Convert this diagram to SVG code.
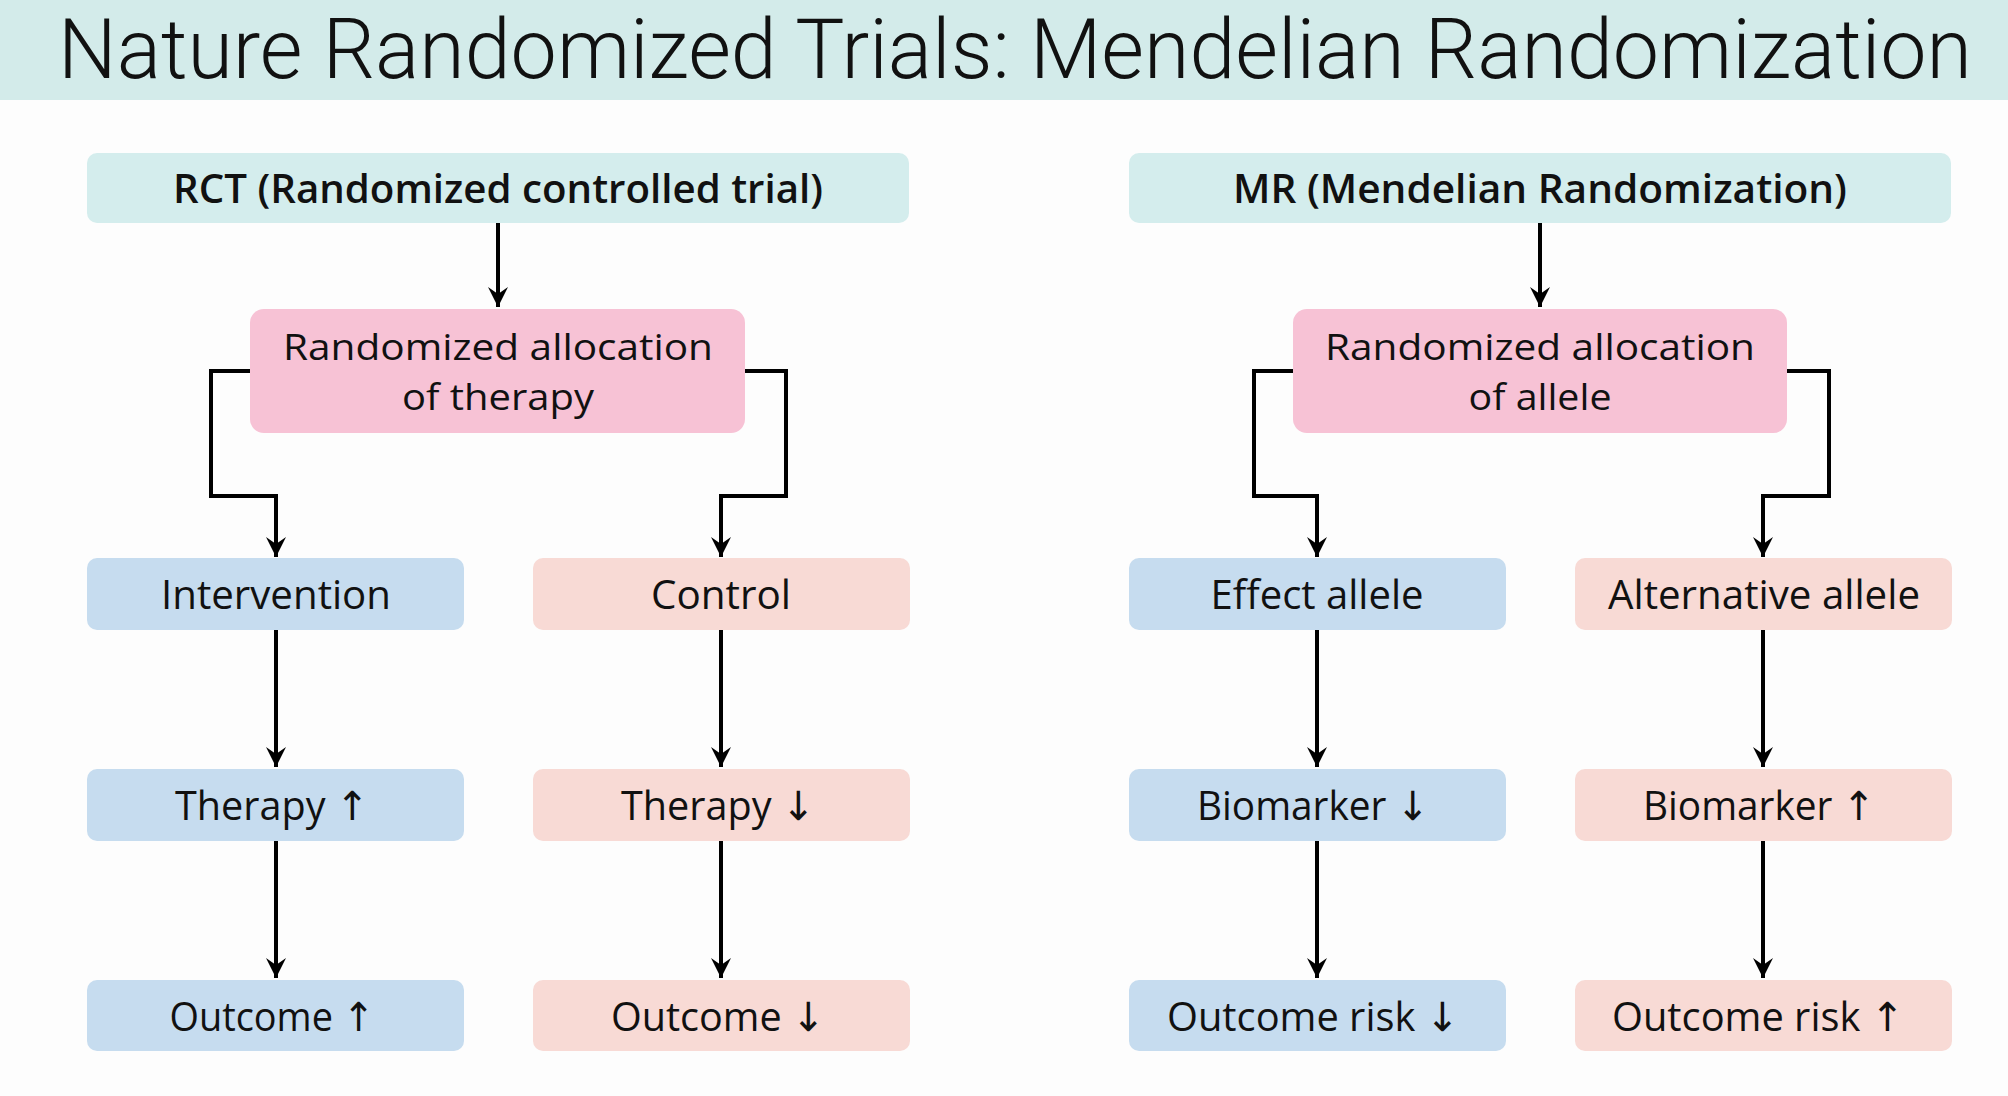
<svg xmlns="http://www.w3.org/2000/svg" width="2008" height="1096" viewBox="0 0 2008 1096">
<style>
.t{font-family:"Open Sans","Noto Sans","DejaVu Sans",sans-serif;font-size:40px;fill:#111;text-anchor:middle}
.h{font-weight:600}
.a{font-size:36px}
.hd{fill:#d4eded}
.pk{fill:#f7c2d5}
.bl{fill:#c6dcef}
.pc{fill:#f8dad5}
.c{fill:none;stroke:#000;stroke-width:4;marker-end:url(#ah)}
</style>
<defs>
<marker id="ah" markerUnits="userSpaceOnUse" viewBox="-21 -11 22 22" refX="0" refY="0" markerWidth="22" markerHeight="22" orient="auto">
<path d="M0,0 L-20,-10 L-13,0 L-20,10 Z" fill="#000"/>
</marker>
</defs>
<rect x="0" y="0" width="2008" height="1096" fill="#fdfdfd"/>
<g id="title">
<rect x="0" y="0" width="2008" height="100" fill="#d3ebea"/>
<text x="1015" y="78" style="font-family:Roboto,'Open Sans',sans-serif;font-size:84px;font-weight:300;fill:#111;text-anchor:middle" textLength="1914" lengthAdjust="spacingAndGlyphs">Nature Randomized Trials: Mendelian Randomization</text>
</g>
<g id="connectors">
<path class="c" d="M498,223 V307"/>
<path class="c" d="M250,371 H211 V496 H276 V557"/>
<path class="c" d="M745,371 H786 V496 H721 V557"/>
<path class="c" d="M276,630 V767"/>
<path class="c" d="M276,841 V978"/>
<path class="c" d="M721,630 V767"/>
<path class="c" d="M721,841 V978"/>
<path class="c" d="M1540,223 V307"/>
<path class="c" d="M1293,371 H1254 V496 H1317 V557"/>
<path class="c" d="M1787,371 H1829 V496 H1763 V557"/>
<path class="c" d="M1317,630 V767"/>
<path class="c" d="M1317,841 V978"/>
<path class="c" d="M1763,630 V767"/>
<path class="c" d="M1763,841 V978"/>
</g>
<g id="rct">
<rect class="hd" x="87" y="153" width="822" height="70" rx="10"/>
<text class="t h" x="498" y="203" textLength="650" lengthAdjust="spacingAndGlyphs">RCT (Randomized controlled trial)</text>
</g>
<g id="alloc-therapy">
<rect class="pk" x="250" y="309" width="495" height="124" rx="14"/>
<text class="t a" x="498" y="360" textLength="430" lengthAdjust="spacingAndGlyphs">Randomized allocation</text>
<text class="t a" x="498" y="410" textLength="192" lengthAdjust="spacingAndGlyphs">of therapy</text>
</g>
<g id="intervention">
<rect class="bl" x="87" y="558" width="377" height="72" rx="10"/>
<text class="t" x="276" y="609" textLength="230" lengthAdjust="spacingAndGlyphs">Intervention</text>
</g>
<g id="control">
<rect class="pc" x="533" y="558" width="377" height="72" rx="10"/>
<text class="t" x="721" y="609" textLength="140" lengthAdjust="spacingAndGlyphs">Control</text>
</g>
<g id="therapy-up">
<rect class="bl" x="87" y="769" width="377" height="72" rx="10"/>
<text class="t" x="272" y="820" textLength="194" lengthAdjust="spacingAndGlyphs">Therapy ↑</text>
</g>
<g id="therapy-down">
<rect class="pc" x="533" y="769" width="377" height="72" rx="10"/>
<text class="t" x="718" y="820" textLength="194" lengthAdjust="spacingAndGlyphs">Therapy ↓</text>
</g>
<g id="outcome-up">
<rect class="bl" x="87" y="980" width="377" height="71" rx="10"/>
<text class="t" x="272" y="1031" textLength="205" lengthAdjust="spacingAndGlyphs">Outcome ↑</text>
</g>
<g id="outcome-down">
<rect class="pc" x="533" y="980" width="377" height="71" rx="10"/>
<text class="t" x="718" y="1031" textLength="214" lengthAdjust="spacingAndGlyphs">Outcome ↓</text>
</g>
<g id="mr">
<rect class="hd" x="1129" y="153" width="822" height="70" rx="10"/>
<text class="t h" x="1540" y="203" textLength="614" lengthAdjust="spacingAndGlyphs">MR (Mendelian Randomization)</text>
</g>
<g id="alloc-allele">
<rect class="pk" x="1293" y="309" width="494" height="124" rx="14"/>
<text class="t a" x="1540" y="360" textLength="430" lengthAdjust="spacingAndGlyphs">Randomized allocation</text>
<text class="t a" x="1540" y="410" textLength="143" lengthAdjust="spacingAndGlyphs">of allele</text>
</g>
<g id="effect-allele">
<rect class="bl" x="1129" y="558" width="377" height="72" rx="10"/>
<text class="t" x="1317" y="609" textLength="213" lengthAdjust="spacingAndGlyphs">Effect allele</text>
</g>
<g id="alternative-allele">
<rect class="pc" x="1575" y="558" width="377" height="72" rx="10"/>
<text class="t" x="1764" y="609" textLength="312" lengthAdjust="spacingAndGlyphs">Alternative allele</text>
</g>
<g id="biomarker-down">
<rect class="bl" x="1129" y="769" width="377" height="72" rx="10"/>
<text class="t" x="1313" y="820" textLength="232" lengthAdjust="spacingAndGlyphs">Biomarker ↓</text>
</g>
<g id="biomarker-up">
<rect class="pc" x="1575" y="769" width="377" height="72" rx="10"/>
<text class="t" x="1759" y="820" textLength="232" lengthAdjust="spacingAndGlyphs">Biomarker ↑</text>
</g>
<g id="outcome-risk-down">
<rect class="bl" x="1129" y="980" width="377" height="71" rx="10"/>
<text class="t" x="1313" y="1031" textLength="292" lengthAdjust="spacingAndGlyphs">Outcome risk ↓</text>
</g>
<g id="outcome-risk-up">
<rect class="pc" x="1575" y="980" width="377" height="71" rx="10"/>
<text class="t" x="1758" y="1031" textLength="292" lengthAdjust="spacingAndGlyphs">Outcome risk ↑</text>
</g>
</svg>
